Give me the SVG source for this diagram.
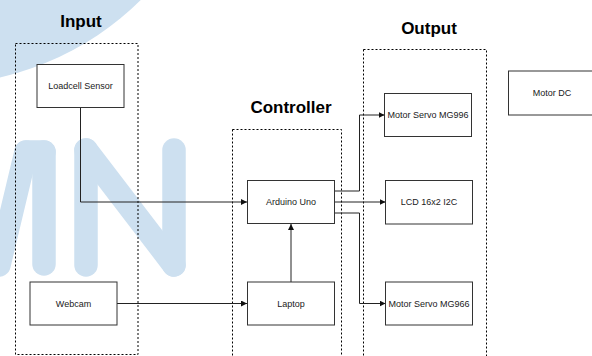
<svg xmlns="http://www.w3.org/2000/svg" width="592" height="356" viewBox="0 0 592 356">
<style>
.wm{stroke:#cde0f0;stroke-width:23.5;stroke-linecap:round;fill:none}
.grp{fill:none;stroke:#000;stroke-width:1;stroke-dasharray:2 2}
.box{fill:#fff;stroke:#333;stroke-width:1}
.lbl{font-family:"Liberation Sans",Arial,sans-serif;font-size:9px;fill:#1a1a1a;text-anchor:middle}
.ttl{font-family:"Liberation Sans",Arial,sans-serif;font-size:17px;font-weight:bold;fill:#000;text-anchor:middle}
.edge{fill:none;stroke:#222;stroke-width:1}
</style>
<defs>
<marker id="arr" markerWidth="7" markerHeight="6" refX="6" refY="3" orient="auto" markerUnits="userSpaceOnUse">
<path d="M0,0 L6,3 L0,6 Z" fill="#111"/>
</marker>
</defs>
<rect width="592" height="356" fill="#fff"/>
<g id="watermark">
<circle cx="-66" cy="-209" r="294" fill="#cde0f0"/>
<line class="wm" x1="26" y1="152" x2="-1" y2="265"/>
<line class="wm" x1="26" y1="152" x2="44" y2="152"/>
<line class="wm" x1="44" y1="152" x2="44" y2="264"/>
<line class="wm" x1="86" y1="150" x2="86" y2="265"/>
<line class="wm" x1="86" y1="150" x2="174" y2="265"/>
<line class="wm" x1="174" y1="150" x2="174" y2="265"/>
</g>
<g id="group-input">
<rect class="grp" x="15.5" y="43.5" width="122.5" height="311"/>
<text class="ttl" x="81" y="26.5">Input</text>
</g>
<g id="group-controller">
<rect class="grp" x="232.5" y="129.5" width="109" height="240"/>
<text class="ttl" x="291" y="113.3">Controller</text>
</g>
<g id="group-output">
<rect class="grp" x="363.5" y="49.5" width="123" height="320"/>
<text class="ttl" x="429" y="33.5">Output</text>
</g>
<g id="connectors">
<path class="edge" d="M80.5,108 V202 H247" marker-end="url(#arr)"/>
<path class="edge" d="M117,303.5 H247" marker-end="url(#arr)"/>
<path class="edge" d="M291,282 V224" marker-end="url(#arr)"/>
<path class="edge" d="M334.5,191 H359.5 V115 H384.5" marker-end="url(#arr)"/>
<path class="edge" d="M334.5,202 H385.5" marker-end="url(#arr)"/>
<path class="edge" d="M334.5,213 H359.5 V303.5 H385.5" marker-end="url(#arr)"/>
</g>
<g id="loadcell">
<rect class="box" x="37" y="64.5" width="87" height="43"/>
<text class="lbl" x="80.5" y="89">Loadcell Sensor</text>
</g>
<g id="webcam">
<rect class="box" x="30" y="282" width="87" height="43"/>
<text class="lbl" x="73.5" y="306.7">Webcam</text>
</g>
<g id="arduino">
<rect class="box" x="247.5" y="180.5" width="87" height="43"/>
<text class="lbl" x="291" y="205.2">Arduino Uno</text>
</g>
<g id="laptop">
<rect class="box" x="247.5" y="282" width="87" height="43"/>
<text class="lbl" x="291" y="306.7">Laptop</text>
</g>
<g id="servo996">
<rect class="box" x="384.5" y="93.5" width="87" height="43"/>
<text class="lbl" x="428" y="118.2">Motor Servo MG996</text>
</g>
<g id="lcd">
<rect class="box" x="385.5" y="180.5" width="87" height="43.5"/>
<text class="lbl" x="429" y="205.2">LCD 16x2 I2C</text>
</g>
<g id="servo966">
<rect class="box" x="385.5" y="282" width="87" height="43"/>
<text class="lbl" x="429" y="306.7">Motor Servo MG966</text>
</g>
<g id="motordc">
<rect class="box" x="508.5" y="71" width="87" height="44"/>
<text class="lbl" x="552" y="96">Motor DC</text>
</g>
</svg>
